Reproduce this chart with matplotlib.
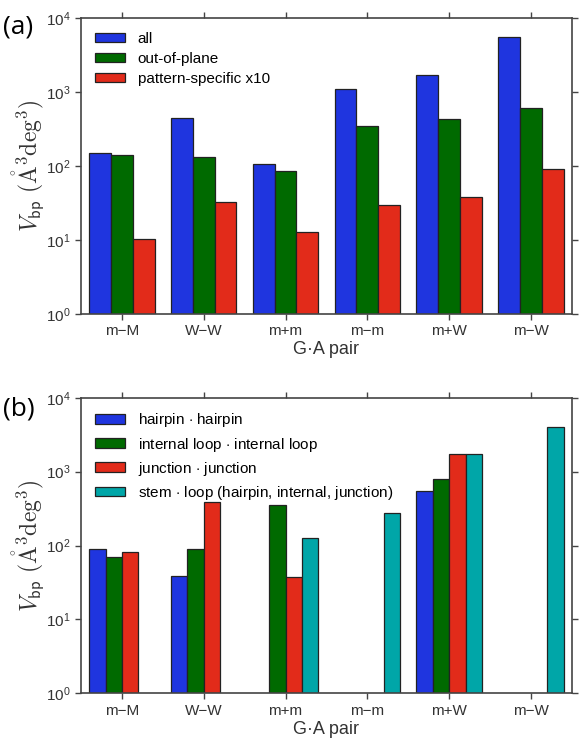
import numpy as np
import matplotlib
matplotlib.use('Agg')
import matplotlib.pyplot as plt

plt.rcParams['font.family'] = ['Liberation Sans', 'DejaVu Sans']
plt.rcParams['mathtext.fontset'] = 'cm'

pairs = ['m\u2212M', 'W\u2212W', 'm+m', 'm\u2212m', 'm+W', 'm\u2212W']

# panel (a)
v_all = [148, 450, 108, 1090, 1700, 5600]
v_oop = [139, 132, 86, 350, 435, 615]
v_pat = [10.4, 33, 12.7, 30, 38, 90]   # already x10
labels_a = ['all', 'out-of-plane', 'pattern-specific x10']

# panel (b), nan = no bar
v_hp = [89, 38.7, np.nan, np.nan, 546, np.nan]
v_il = [69, 90, 350, np.nan, 802, np.nan]
v_jn = [81, 387, 38, np.nan, 1730, np.nan]
v_st = [np.nan, np.nan, 125, 273, 1730, 3980]
labels_b = ['hairpin $\\cdot$ hairpin', 'internal loop $\\cdot$ internal loop',
            'junction $\\cdot$ junction', 'stem $\\cdot$ loop (hairpin, internal, junction)']

c_blue = '#1f35df'
c_green = '#006a00'
c_red = '#e22b1a'
c_cyan = '#00a6a8'

ylab = r'$V_{\mathsf{bp}}\ (\mathring{\rm A}^3{\rm deg}^3)$'

fig = plt.figure(figsize=(5.81, 7.42), dpi=100)
ax1 = fig.add_axes([0.1394, 0.5768, 0.845, 0.3989])
ax2 = fig.add_axes([0.1394, 0.0656, 0.845, 0.3984])

x = np.arange(len(pairs))


def style(ax, series, cols, labels, w):
    n = len(series)
    for k, (vals, c, lab) in enumerate(zip(series, cols, labels)):
        off = (k - (n - 1) / 2) * w
        ax.bar(x + off, vals, w, color=c, edgecolor='#222222', linewidth=0.9, label=lab)
    ax.set_yscale('log')
    ax.set_ylim(1, 1e4)
    ax.set_xlim(-0.5, 5.5)
    ax.set_xticks(x)
    ax.set_xticklabels(pairs)
    ax.yaxis.set_minor_locator(matplotlib.ticker.NullLocator())
    ax.tick_params(axis='both', which='major', direction='out', length=4, width=1,
                   color='#444444', labelsize=11, labelcolor='#333333',
                   top=True, right=True)
    for s in ax.spines.values():
        s.set_color('#444444')
        s.set_linewidth(1.2)
    ax.set_xlabel('G\u00b7A pair', fontsize=13, color='#333333', labelpad=2)
    ax.set_ylabel(ylab, fontsize=17, color='#333333', labelpad=0)
    ax.legend(loc='upper left', frameon=False, fontsize=11, handlelength=2.0,
              handleheight=0.6, labelspacing=0.4, borderaxespad=0.5)


style(ax1, [v_all, v_oop, v_pat], [c_blue, c_green, c_red], labels_a, 0.8 / 3)
style(ax2, [v_hp, v_il, v_jn, v_st], [c_blue, c_green, c_red, c_cyan], labels_b, 0.2)

fig.text(0.005, 0.955, '(a)', fontsize=19, color='black', family=['Open Sans', 'DejaVu Sans'])
fig.text(0.005, 0.44, '(b)', fontsize=19, color='black', family=['Open Sans', 'DejaVu Sans'])

fig.savefig('out.png', dpi=100)
